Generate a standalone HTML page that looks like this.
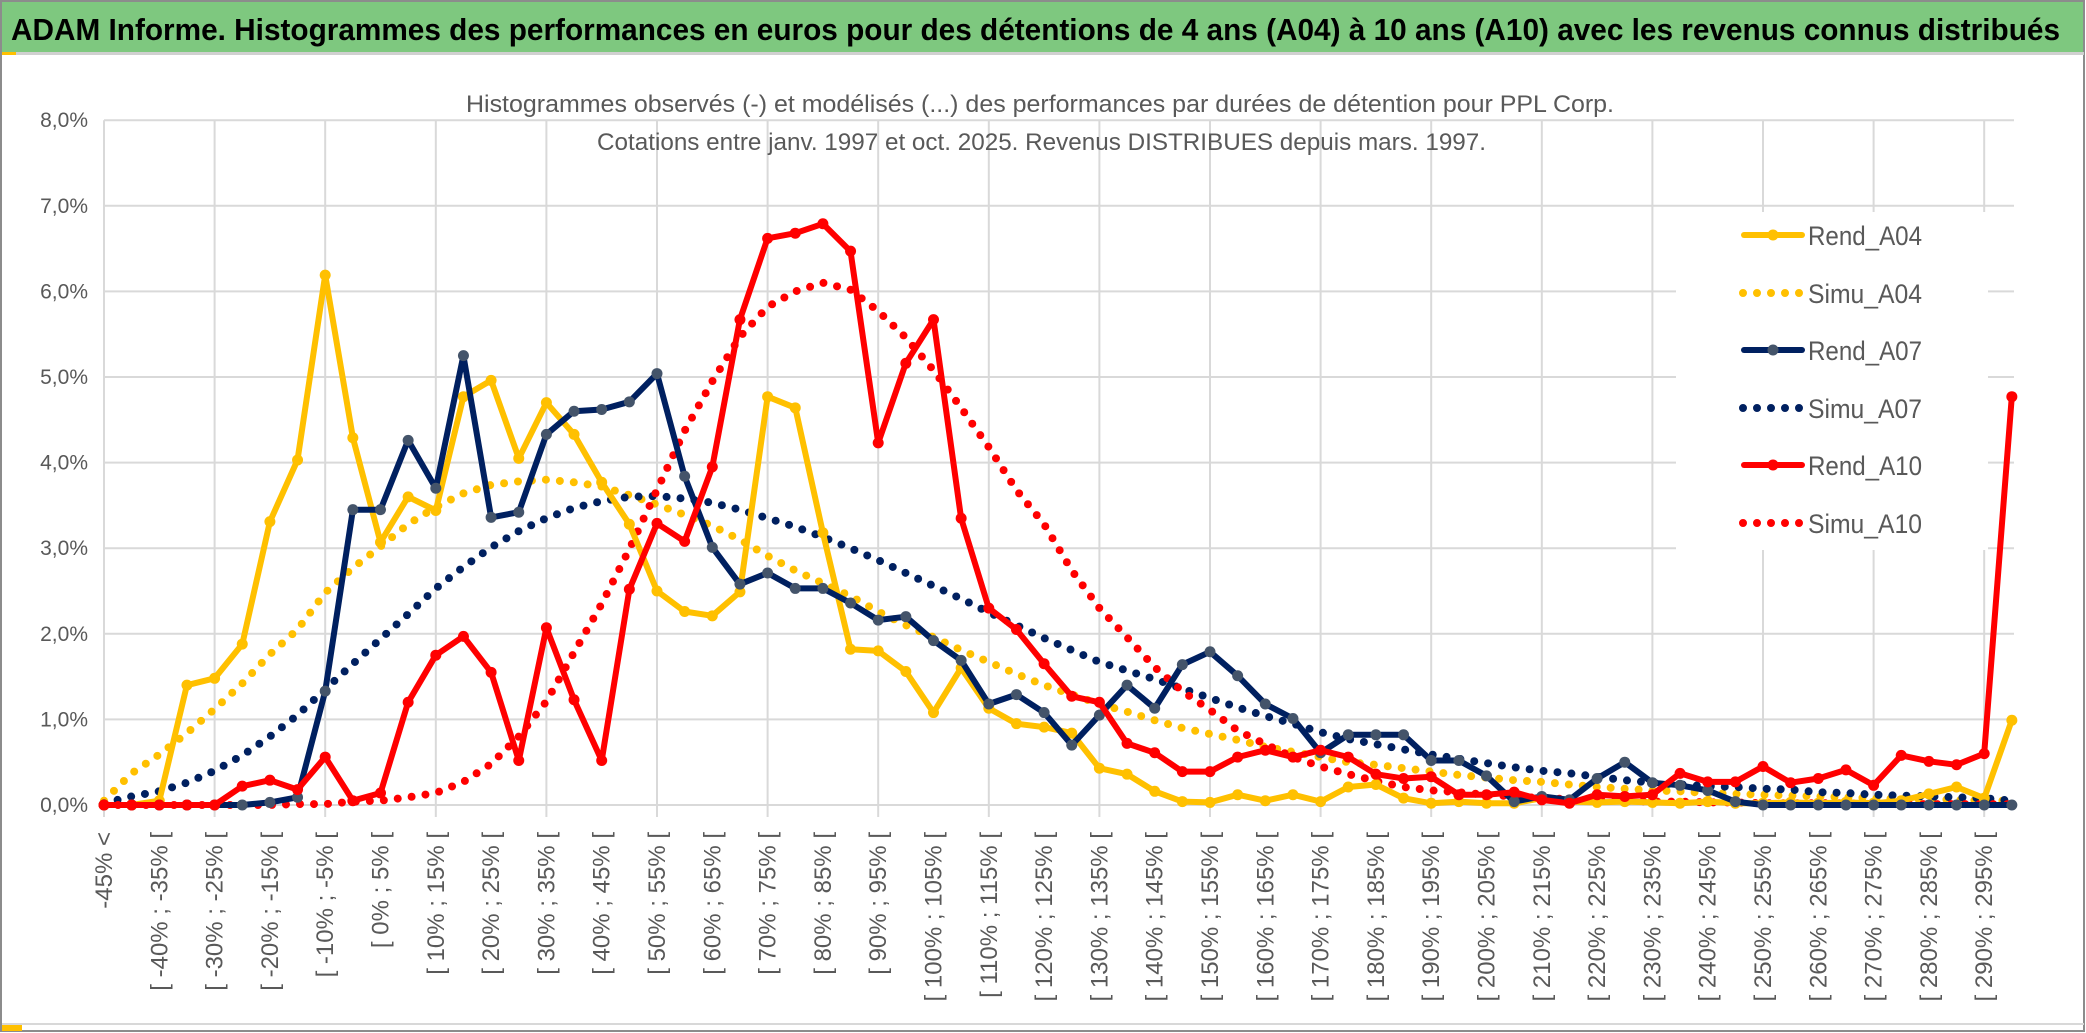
<!DOCTYPE html>
<html><head><meta charset="utf-8"><style>
html,body{margin:0;padding:0;background:#fff;}
svg{display:block;}
text{font-family:"Liberation Sans",sans-serif;}
</style></head><body>
<svg id="chart" width="2086" height="1033" viewBox="0 0 2086 1033" xmlns="http://www.w3.org/2000/svg">
<rect x="0" y="0" width="2086" height="1033" fill="#fff"/>
<rect x="1" y="1" width="2083" height="1030" fill="none" stroke="#8c8c8c" stroke-width="2"/>
<rect x="2" y="2" width="2081" height="50" fill="#7ec87f"/>
<line x1="2" y1="53.5" x2="2084" y2="53.5" stroke="#d0d0d0" stroke-width="3"/>
<rect x="2" y="52" width="14" height="3" fill="#ffc000"/>
<line x1="2" y1="1024" x2="2084" y2="1024" stroke="#d8d8d8" stroke-width="2"/>
<rect x="2" y="1025" width="20" height="6" fill="#ffc000"/>
<text x="11" y="40" font-size="31" font-weight="bold" fill="#000" textLength="2049" lengthAdjust="spacingAndGlyphs">ADAM Informe. Histogrammes des performances en euros pour des détentions de 4 ans (A04) à 10 ans (A10) avec les revenus connus distribués</text>
<g id="grid"></g>
<g id="series"></g>
<g id="legend"></g>
<text x="466" y="112" font-size="24" fill="#595959" textLength="1148" lengthAdjust="spacingAndGlyphs">Histogrammes observés (-) et modélisés (...) des performances par durées de détention pour PPL Corp.</text>
<text x="597" y="150" font-size="24" fill="#595959" textLength="889" lengthAdjust="spacingAndGlyphs">Cotations entre janv. 1997 et oct. 2025. Revenus DISTRIBUES depuis mars. 1997.</text>
<g id="xlabels"></g>
<g id="ylabels"></g>
</svg>
<script>
const rendA04 = [0,0,0.05,1.40,1.48,1.88,3.31,4.03,6.19,4.29,3.07,3.60,3.44,4.77,4.96,4.05,4.70,4.33,3.77,3.28,2.50,2.26,2.21,2.49,4.77,4.64,3.18,1.82,1.80,1.56,1.08,1.60,1.13,0.95,0.91,0.84,0.43,0.36,0.16,0.04,0.03,0.12,0.05,0.12,0.04,0.21,0.24,0.08,0.02,0.04,0.02,0.02,0.08,0.04,0.03,0.04,0.03,0.02,0.04,0.02,0.02,0.03,0.02,0.03,0.02,0.05,0.13,0.21,0.08,0.99];
const simuA04 = [0.05,0.37,0.59,0.84,1.12,1.42,1.76,2.05,2.48,2.77,3.02,3.28,3.48,3.64,3.74,3.78,3.80,3.77,3.72,3.62,3.51,3.39,3.26,3.10,2.91,2.74,2.59,2.44,2.26,2.10,1.96,1.81,1.67,1.53,1.40,1.29,1.18,1.09,0.99,0.90,0.83,0.76,0.68,0.62,0.56,0.50,0.47,0.43,0.39,0.35,0.32,0.29,0.27,0.24,0.21,0.19,0.17,0.16,0.14,0.13,0.12,0.11,0.10,0.09,0.08,0.07,0.07,0.06,0.05,0.05];
const rendA07 = [0,0,0,0,0,0,0.03,0.09,1.33,3.45,3.45,4.26,3.70,5.25,3.36,3.42,4.33,4.60,4.62,4.71,5.04,3.84,3.01,2.58,2.71,2.53,2.53,2.36,2.16,2.20,1.92,1.69,1.18,1.29,1.08,0.70,1.05,1.40,1.13,1.64,1.79,1.51,1.18,1.01,0.61,0.82,0.82,0.82,0.52,0.52,0.34,0.04,0.10,0.06,0.31,0.50,0.26,0.23,0.17,0.04,0,0,0,0,0,0,0,0,0,0];
const simuA07 = [0.02,0.10,0.16,0.26,0.40,0.58,0.80,1.05,1.35,1.65,1.94,2.23,2.53,2.78,3.01,3.20,3.35,3.47,3.55,3.60,3.61,3.58,3.53,3.45,3.35,3.25,3.13,3.00,2.86,2.71,2.56,2.41,2.25,2.10,1.95,1.81,1.67,1.57,1.47,1.36,1.25,1.14,1.04,0.95,0.85,0.77,0.71,0.65,0.59,0.54,0.49,0.44,0.40,0.37,0.33,0.29,0.26,0.24,0.22,0.21,0.19,0.18,0.15,0.14,0.12,0.11,0.10,0.09,0.08,0.05];
const rendA10 = [0,0,0,0,0,0.22,0.29,0.18,0.56,0.05,0.14,1.20,1.75,1.97,1.55,0.52,2.07,1.23,0.52,2.52,3.29,3.08,3.95,5.67,6.62,6.68,6.79,6.47,4.23,5.16,5.67,3.35,2.30,2.05,1.65,1.27,1.20,0.72,0.61,0.39,0.39,0.56,0.64,0.56,0.64,0.56,0.36,0.31,0.33,0.12,0.12,0.15,0.06,0.02,0.12,0.10,0.12,0.37,0.27,0.27,0.45,0.26,0.31,0.41,0.23,0.58,0.51,0.47,0.60,4.77];
const simuA10 = [0,0,0,0,0,0,0,0.01,0.01,0.04,0.05,0.09,0.14,0.27,0.48,0.80,1.21,1.78,2.35,2.99,3.68,4.37,4.95,5.47,5.82,6.00,6.10,6.02,5.77,5.46,5.08,4.64,4.18,3.68,3.28,2.74,2.30,1.96,1.61,1.33,1.11,0.87,0.71,0.56,0.45,0.36,0.28,0.21,0.17,0.15,0.12,0.10,0.08,0.07,0.06,0.05,0.04,0.04,0.03,0.03,0.02,0.02,0.02,0.02,0.01,0.01,0.01,0.01,0.01,0.01];
const yTicks = [0,1,2,3,4,5,6,7,8];
const yTickLabels = ["0,0%","1,0%","2,0%","3,0%","4,0%","5,0%","6,0%","7,0%","8,0%"];
const categories = ["-45% <"];
for (let k = 1; k < 70; k++) { const a = -50 + 5 * k; categories.push("[ " + a + "% ; " + (a + 5) + "% ["); }

const NS = "http://www.w3.org/2000/svg";
const X0 = 104, DX = 27.65, Y0 = 805, DY = 85.6;
function xPos(i) { return X0 + i * DX; }
function yPos(v) { return Y0 - v * DY; }
function mk(tag, attrs, parent) { const e = document.createElementNS(NS, tag); for (const k in attrs) e.setAttribute(k, attrs[k]); parent.appendChild(e); return e; }

const grid = document.getElementById('grid');
for (const t of yTicks) {
  const l = mk('line', {x1: X0, x2: 2014, y1: yPos(t), y2: yPos(t), stroke: '#d9d9d9', 'stroke-width': 2}, grid);
  
  
}
for (let i = 0; i < categories.length; i += 4) {
  const l = mk('line', {x1: xPos(i), x2: xPos(i), y1: yPos(8), y2: Y0 + 12, stroke: '#d9d9d9', 'stroke-width': 2}, grid);
  
  
}
const yl = document.getElementById('ylabels');
yTicks.forEach((t, k) => {
  const tx = mk('text', {x: 88, y: yPos(t) + 7, 'font-size': 21, fill: '#595959', 'text-anchor': 'end'}, yl);
  
  
  tx.textContent = yTickLabels[k];
});
const xl = document.getElementById('xlabels');
categories.forEach((c, i) => {
  if (i % 2) return;
  const x = xPos(i) + 8, y = 832;
  const tx = mk('text', {x: x, y: y, 'font-size': 24, fill: '#595959', 'text-anchor': 'end', transform: 'rotate(-90 ' + x + ' ' + y + ')'}, xl);
  
  
  tx.textContent = c;
});

const series = document.getElementById('series');
function pts(arr) { return arr.map((v, i) => xPos(i).toFixed(1) + ',' + yPos(v).toFixed(1)).join(' '); }
function dotted(arr, color, name) {
  const p = mk('polyline', {points: pts(arr), fill: 'none', stroke: color, 'stroke-width': 8, 'stroke-linecap': 'round', 'stroke-dasharray': '0 14'}, series);
  
  
}
function solid(arr, color, mcolor, name) {
  const g = mk('g', {}, series);
  
  
  mk('polyline', {points: pts(arr), fill: 'none', stroke: color, 'stroke-width': 6, 'stroke-linejoin': 'round'}, g);
  arr.forEach((v, i) => {
    const c = mk('circle', {cx: xPos(i), cy: yPos(v), r: 5.5, fill: mcolor}, g);
    
    
  });
}
dotted(simuA04, '#ffc000', 'simu-a04-line');
dotted(simuA07, '#002060', 'simu-a07-line');
dotted(simuA10, '#ff0000', 'simu-a10-line');
solid(rendA04, '#ffc000', '#ffc000', 'rend-a04-line');
solid(rendA07, '#002060', '#44546a', 'rend-a07-line');
solid(rendA10, '#ff0000', '#ff0000', 'rend-a10-line');

const lg = document.getElementById('legend');
const bg = mk('rect', {x: 1676, y: 212, width: 312, height: 338, fill: '#fff'}, lg);


const legNames = ['Rend_A04','Simu_A04','Rend_A07','Simu_A07','Rend_A10','Simu_A10'];
const legColors = ['#ffc000','#ffc000','#002060','#002060','#ff0000','#ff0000'];
const legMarker = ['#ffc000','','#44546a','','#ff0000',''];
const legY = [235, 293, 350, 408, 465, 523];
legNames.forEach((n, k) => {
  const g = mk('g', {}, lg);
  
  
  const y = legY[k];
  if (k % 2 === 0) {
    mk('line', {x1: 1744, x2: 1802, y1: y, y2: y, stroke: legColors[k], 'stroke-width': 6, 'stroke-linecap': 'round'}, g);
    mk('circle', {cx: 1773, cy: y, r: 5.5, fill: legMarker[k]}, g);
  } else {
    mk('line', {x1: 1743, x2: 1800, y1: y, y2: y, stroke: legColors[k], 'stroke-width': 8, 'stroke-linecap': 'round', 'stroke-dasharray': '0 14'}, g);
  }
  const t = mk('text', {x: 1808, y: y + 10, 'font-size': 27, fill: '#595959', textLength: 114, lengthAdjust: 'spacingAndGlyphs'}, g);
  t.textContent = n;
});
</script>
</body></html>
